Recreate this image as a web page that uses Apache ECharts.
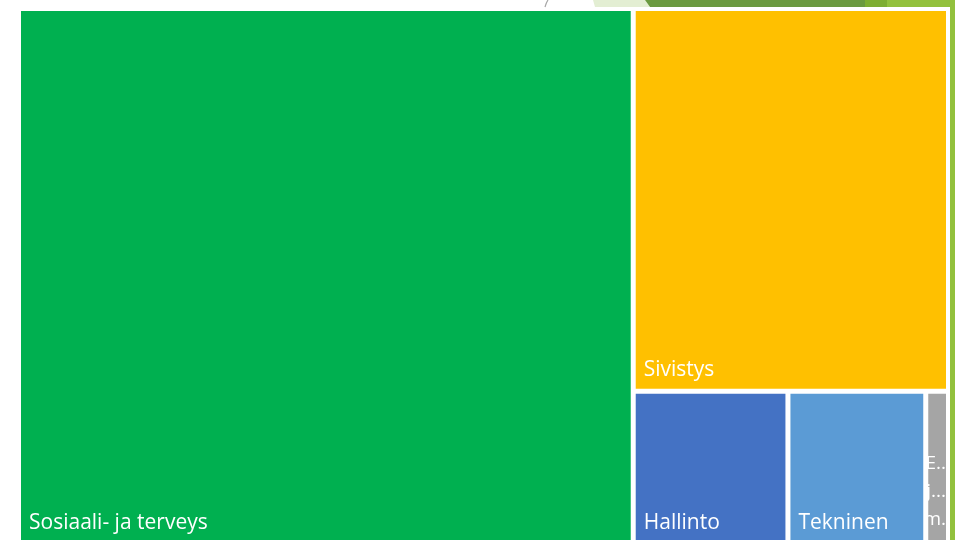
<!DOCTYPE html>
<html>
<head>
<meta charset="utf-8">
<script src="https://cdn.jsdelivr.net/npm/echarts@6/dist/echarts.min.js"></script>
<style>
  html, body { margin: 0; padding: 0; background: #fff; }
  #main { width: 955px; height: 540px; }
</style>
</head>
<body>
<div id="main"></div>
<script>
// toimialojen osuudet (arvioitu kuvasta)
const sectors = ['Sosiaali- ja terveys', 'Sivistys', 'Hallinto', 'Tekninen', 'Elinvoima ja maaseutu'];
const shares = [66.1, 24.2, 4.76, 4.24, 0.7];
const colors = ['#00B050', '#FFC000', '#4472C4', '#5B9BD5', '#A5A5A5'];

const chart = echarts.init(document.getElementById('main'));

const data = sectors.map((name, i) => {
  const item = {
    name,
    value: shares[i],
    itemStyle: { color: colors[i] }
  };
  if (i === sectors.length - 1) {
    // kapea ruutu: sanat lyhennettyinä allekkain
    item.label = {
      overflow: 'none',
      position: 'insideBottomRight',
      align: 'right',
      fontSize: 19,
      lineHeight: 28,
      padding: [0, 0, 8, 0],
      formatter: p => p.name.split(' ').map((w, k) => w.charAt(0) + (k === 1 ? '...' : k === 0 ? '..' : '.')).join('\n')
    };
  }
  return item;
});

const option = {
  backgroundColor: '#fff',
  graphic: [
    { type: 'bezierCurve', shape: { x1: 548, y1: 0, x2: 545, y2: 7, cpx1: 546, cpy1: 3 },
      style: { stroke: '#a6a6a6', lineWidth: 1.2, fill: null } },
    { type: 'polygon', shape: { points: [[593, 0], [645, 0], [650, 7], [595, 7]] }, style: { fill: '#E3EED3' } },
    { type: 'polygon', shape: { points: [[645, 0], [865, 0], [865, 7], [650, 7]] }, style: { fill: '#6A9A40' } },
    { type: 'rect', shape: { x: 865, y: 0, width: 22, height: 7 }, style: { fill: '#7DAE32' } },
    { type: 'rect', shape: { x: 887, y: 0, width: 68, height: 7 }, style: { fill: '#92C13D' } },
    { type: 'rect', shape: { x: 950, y: 0, width: 5, height: 540 }, style: { fill: '#92C13D' } }
  ],
  series: [{
    type: 'treemap',
    left: 20,
    top: 10,
    width: 927,
    height: 533,
    roam: false,
    nodeClick: false,
    breadcrumb: { show: false },
    sort: 'desc',
    label: {
      show: true,
      position: 'insideBottomLeft',
      color: '#fff',
      fontSize: 21,
      fontFamily: 'Open Sans',
      padding: [0, 0, 8, 8]
    },
    itemStyle: {
      borderColor: 'rgba(255,255,255,0.35)',
      borderWidth: 1
    },
    levels: [
      { itemStyle: { borderColor: '#fff', borderWidth: 0, gapWidth: 3 } },
      { itemStyle: { borderColor: 'rgba(255,255,255,0.35)', borderWidth: 1 } }
    ],
    data
  }]
};

chart.setOption(option);
window.addEventListener('resize', () => chart.resize());
</script>
</body>
</html>
